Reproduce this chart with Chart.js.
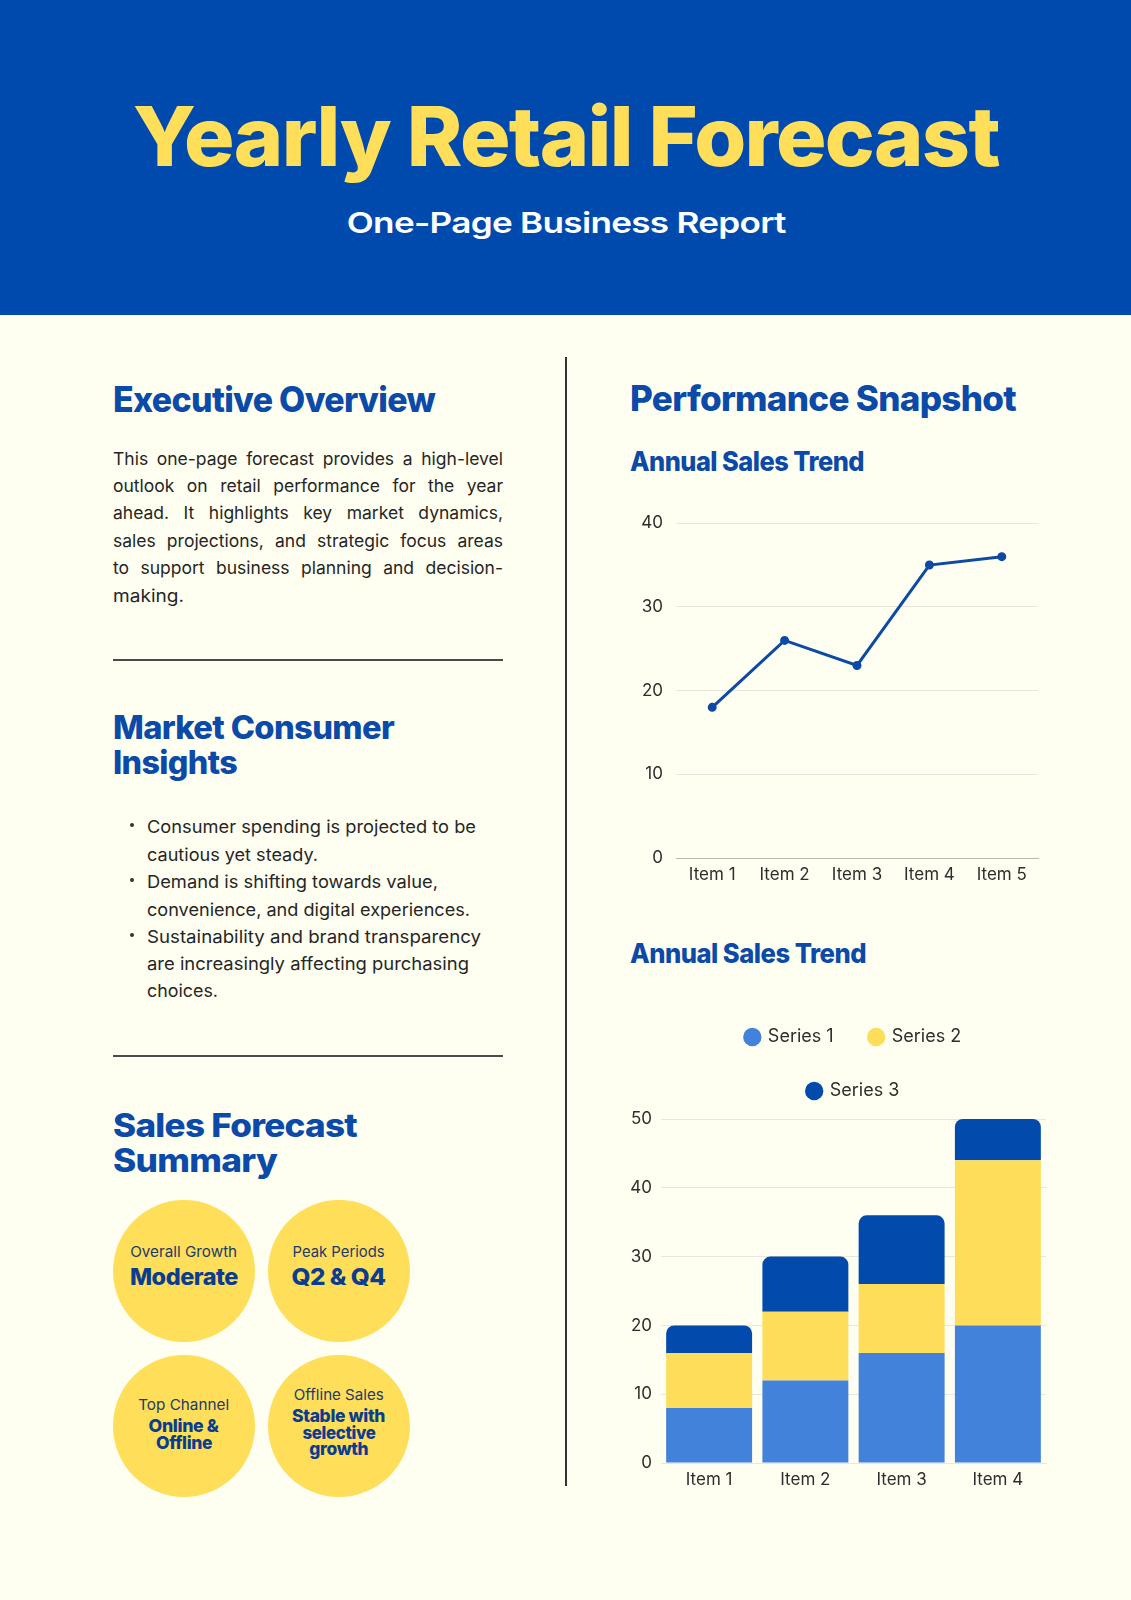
<!DOCTYPE html>
<html>
<head>
<meta charset="utf-8">
<script src="https://cdn.jsdelivr.net/npm/chart.js@4.4.1/dist/chart.umd.min.js"></script>
<style>
  html,body{margin:0;padding:0;}
  body{width:1131px;height:1600px;position:relative;overflow:hidden;background:#fefef1;font-family:Inter,sans-serif;}
  #hdr{position:absolute;left:0;top:0;width:1131px;height:315px;background:#004aad;}
  .t{position:absolute;white-space:nowrap;line-height:1;}
  .rule{position:absolute;background:#4a4a4a;}
  .circ{position:absolute;width:142px;height:142px;border-radius:50%;background:#ffde59;}
  .dot{position:absolute;width:4px;height:4px;border-radius:50%;background:#333;}
  canvas{position:absolute;}
</style>
</head>
<body>
<div id="hdr"></div>
<div class="rule" style="left:565px;top:357px;width:1.5px;height:1129px;background:#333;"></div>
<div class="rule" style="left:113px;top:659px;width:390px;height:1.5px;"></div>
<div class="rule" style="left:113px;top:1055px;width:390px;height:1.5px;"></div>
<div class="circ" style="left:113px;top:1200px;"></div>
<div class="circ" style="left:268px;top:1200px;"></div>
<div class="circ" style="left:113px;top:1355px;"></div>
<div class="circ" style="left:268px;top:1355px;"></div>
<div class="dot" style="left:130px;top:823px;"></div>
<div class="dot" style="left:130px;top:878px;"></div>
<div class="dot" style="left:130px;top:933px;"></div>
<canvas id="lineChart" width="425" height="395" style="left:620px;top:500px;"></canvas>
<canvas id="barChart" width="440" height="503" style="left:610px;top:992px;"></canvas>
<script>
// ---------- chart data ----------
const lineLabels = ['Item 1', 'Item 2', 'Item 3', 'Item 4', 'Item 5'];
const lineValues = [18, 26, 23, 35, 36];

const barLabels = ['Item 1', 'Item 2', 'Item 3', 'Item 4'];
const series1 = [8, 12, 16, 20];
const series2 = [8, 10, 10, 24];
const series3 = [4, 8, 10, 6];
const seriesNames = ['Series 1', 'Series 2', 'Series 3'];

const lineTicks = {min: 0, max: 40, step: 10};
const barTicks = {min: 0, max: 50, step: 10};

// ---------- page text ----------
const HB = '#0b4aa8';
const TXT = [
  // s, x, baseline, size, weight, color, align, width
  ['Yearly Retail Forecast', 566, 167, 82, 800, '#ffde59', 'c', 866],
  ['One-Page Business Report', 566, 233, 29, 600, '#ffffff', 'c', 439],
  ['Executive Overview', 113, 412, 35, 800, HB, 'l', 322],
  ['Market Consumer', 113, 740, 32, 800, HB, 'l', 281],
  ['Insights', 113, 775, 32, 800, HB, 'l', 124],
  ['Sales Forecast', 113, 1138, 32, 800, HB, 'l', 244],
  ['Summary', 113, 1173, 32, 800, HB, 'l', 164],
  ['Performance Snapshot', 630, 411, 35, 800, HB, 'l', 386],
  ['Annual Sales Trend', 630, 471, 27, 800, HB, 'l', 234],
  ['Annual Sales Trend', 630, 963, 27, 800, HB, 'l', 236],
  ['This one-page forecast provides a high-level', 113, 465, 17.5, 400, '#262626', 'j', 390],
  ['outlook on retail performance for the year', 113, 492, 17.5, 400, '#262626', 'j', 390],
  ['ahead. It highlights key market dynamics,', 113, 519.5, 17.5, 400, '#262626', 'j', 390],
  ['sales projections, and strategic focus areas', 113, 547, 17.5, 400, '#262626', 'j', 390],
  ['to support business planning and decision-', 113, 574.5, 17.5, 400, '#262626', 'j', 390],
  ['making.', 113, 602, 17.5, 400, '#262626', 'l', 71],
  ['Consumer spending is projected to be', 147, 833, 17.5, 400, '#262626', 'l', 329],
  ['cautious yet steady.', 147, 861, 17.5, 400, '#262626', 'l', 171],
  ['Demand is shifting towards value,', 147, 888, 17.5, 400, '#262626', 'l', 291],
  ['convenience, and digital experiences.', 147, 916, 17.5, 400, '#262626', 'l', 323],
  ['Sustainability and brand transparency', 147, 943, 17.5, 400, '#262626', 'l', 334],
  ['are increasingly affecting purchasing', 147, 970, 17.5, 400, '#262626', 'l', 322],
  ['choices.', 147, 997, 17.5, 400, '#262626', 'l', 71],
  ['Overall Growth', 184, 1257, 15, 400, '#1d3a6b', 'c', 107],
  ['Moderate', 184, 1286, 23, 800, '#0a3d8f', 'c', 108],
  ['Peak Periods', 339, 1257, 15, 400, '#1d3a6b', 'c', 92],
  ['Q2 & Q4', 339, 1286, 23, 800, '#0a3d8f', 'c', 94],
  ['Top Channel', 184, 1410, 15, 400, '#1d3a6b', 'c', 91],
  ['Online &', 184, 1432, 17.5, 800, '#0a3d8f', 'c', 70],
  ['Offline', 184, 1449, 17.5, 800, '#0a3d8f', 'c', 56],
  ['Offline Sales', 339, 1400, 15, 400, '#1d3a6b', 'c', 90],
  ['Stable with', 339, 1422, 17.5, 800, '#0a3d8f', 'c', 93],
  ['selective', 339, 1439, 17.5, 800, '#0a3d8f', 'c', 73],
  ['growth', 339, 1455, 17.5, 800, '#0a3d8f', 'c', 59]
];

function placeText() {
  TXT.forEach(([s, x, b, f, w, c, a, tw]) => {
    const el = document.createElement('div');
    el.className = 't';
    el.textContent = s;
    el.style.fontFamily = 'Inter, sans-serif';
    el.style.fontSize = f + 'px';
    el.style.fontWeight = w;
    el.style.color = c;
    if (w >= 600) el.style.letterSpacing = '-0.02em';
    el.style.top = (b - 0.8636 * f) + 'px';
    el.style.left = '0px';
    document.body.appendChild(el);
    const nat = el.getBoundingClientRect().width;
    if (a === 'j') {
      const spaces = (s.match(/ /g) || []).length;
      el.style.wordSpacing = ((tw - nat) / spaces) + 'px';
      el.style.left = x + 'px';
    } else if (a === 'c') {
      el.style.left = (x - nat / 2) + 'px';
      el.style.transformOrigin = 'center';
      el.style.transform = 'scaleX(' + (tw / nat) + ')';
    } else {
      el.style.left = x + 'px';
      el.style.transformOrigin = 'left';
      el.style.transform = 'scaleX(' + (tw / nat) + ')';
    }
  });
}

function drawCharts() {
  const tickFont = {family: 'Inter, sans-serif', size: 17};
  const tickColor = '#2e2e2e';
  const gridColor = '#e7e7dc';

  new Chart(document.getElementById('lineChart'), {
    type: 'line',
    data: {
      labels: lineLabels,
      datasets: [{
        label: 'Sales',
        data: lineValues,
        borderColor: '#0c4aa6',
        backgroundColor: '#0c4aa6',
        pointBackgroundColor: '#0c4aa6',
        pointBorderColor: '#0c4aa6',
        borderWidth: 3,
        pointRadius: 3,
        tension: 0
      }]
    },
    options: {
      responsive: false,
      animation: false,
      layout: {padding: {top: 0, right: 6, left: 0, bottom: 0}},
      plugins: {legend: {display: false}, tooltip: {enabled: false}},
      scales: {
        x: {
          offset: true,
          grid: {display: false, drawTicks: false},
          border: {display: true, color: '#b8b8b0', width: 1},
          ticks: {font: tickFont, color: tickColor, padding: 7},
          afterFit: s => { s.height = 37; }
        },
        y: {
          min: lineTicks.min, max: lineTicks.max,
          ticks: {stepSize: lineTicks.step, font: tickFont, color: tickColor, padding: 13},
          grid: {color: gridColor, drawTicks: false},
          border: {display: false},
          afterFit: s => { s.width = 56; }
        }
      }
    }
  });

  const legendSpacer = {
    id: 'legendSpacer',
    beforeInit(chart) {
      const orig = chart.legend.fit;
      chart.legend.fit = function () { orig.call(this); this.height += 9; };
    }
  };

  const colors = ['#4282db', '#fedd5b', '#034aad'];
  const vals = [series1, series2, series3];
  new Chart(document.getElementById('barChart'), {
    type: 'bar',
    data: {
      labels: barLabels,
      datasets: vals.map((v, i) => ({
        label: seriesNames[i],
        data: v,
        backgroundColor: colors[i],
        borderWidth: 0,
        borderSkipped: false,
        borderRadius: i === 2 ? {topLeft: 8, topRight: 8, bottomLeft: 0, bottomRight: 0} : 0,
        barPercentage: 1,
        categoryPercentage: 0.893
      }))
    },
    options: {
      responsive: false,
      animation: false,
      layout: {padding: {top: 0, right: 4, left: 0, bottom: 0}},
      plugins: {
        tooltip: {enabled: false},
        legend: {
          position: 'top',
          fullSize: false,
          labels: {
            usePointStyle: true,
            pointStyle: 'circle',
            boxWidth: 13,
            boxHeight: 13,
            padding: 36,
            color: '#2e2e2e',
            font: {family: 'Inter, sans-serif', size: 18}
          }
        }
      },
      scales: {
        x: {
          stacked: true,
          grid: {display: false, drawTicks: false},
          border: {display: true, color: gridColor},
          ticks: {font: tickFont, color: tickColor, padding: 7},
          afterFit: s => { s.height = 32; }
        },
        y: {
          stacked: true,
          min: barTicks.min, max: barTicks.max,
          ticks: {stepSize: barTicks.step, font: tickFont, color: tickColor, padding: 9},
          grid: {color: gridColor, drawTicks: false},
          border: {display: false},
          afterFit: s => { s.width = 51; }
        }
      }
    },
    plugins: [legendSpacer]
  });
}

(document.fonts ? document.fonts.ready : Promise.resolve()).then(() => {
  placeText();
  drawCharts();
});
</script>
</body>
</html>
